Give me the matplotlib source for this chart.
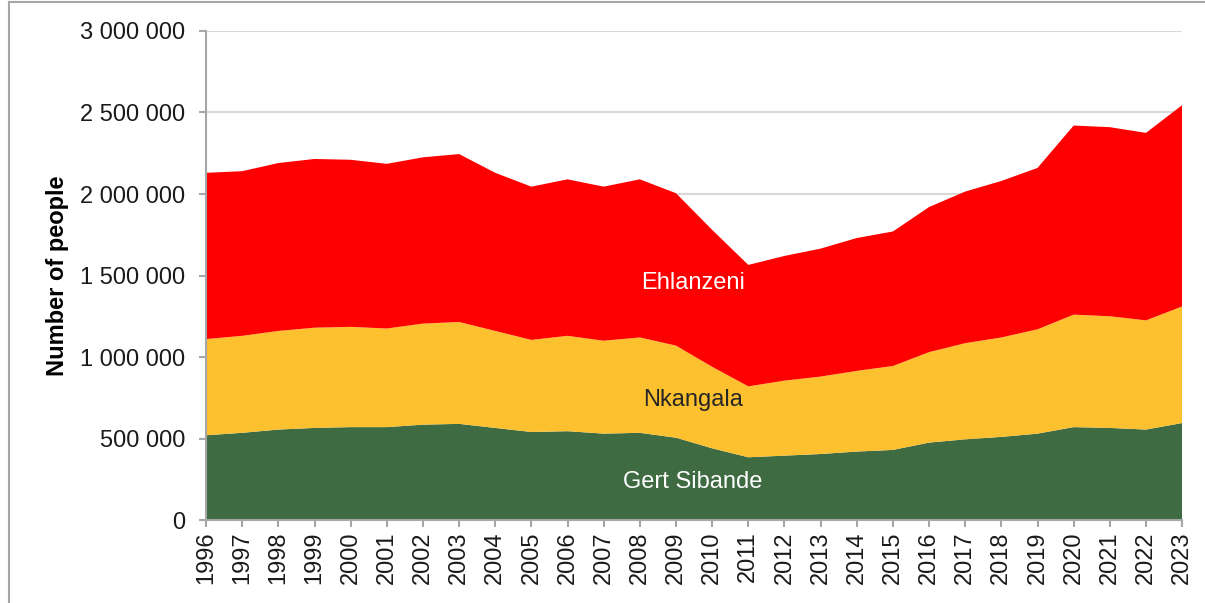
import matplotlib.pyplot as plt
from matplotlib.ticker import FuncFormatter
from matplotlib.lines import Line2D

plt.rcParams['font.family'] = ['Liberation Sans', 'DejaVu Sans']

years = list(range(1996, 2024))

# cumulative tops
gert_top = [520, 535, 555, 565, 570, 570, 585, 590, 565, 540, 545, 530, 535, 505,
            440, 385, 395, 405, 420, 430, 475, 495, 510, 530, 570, 565, 555, 595]
nkangala_top = [1110, 1130, 1160, 1180, 1185, 1175, 1205, 1215, 1160, 1105, 1130, 1100, 1120, 1070,
                940, 820, 855, 880, 915, 945, 1030, 1085, 1120, 1170, 1260, 1250, 1225, 1310]
ehlanzeni_top = [2130, 2140, 2190, 2215, 2210, 2185, 2225, 2245, 2130, 2045, 2090, 2045, 2090, 2005,
                 1780, 1565, 1620, 1665, 1730, 1770, 1920, 2015, 2080, 2160, 2420, 2410, 2375, 2545]

gert_sibande = [g * 1000 for g in gert_top]
nkangala = [(n - g) * 1000 for n, g in zip(nkangala_top, gert_top)]
ehlanzeni = [(e - n) * 1000 for e, n in zip(ehlanzeni_top, nkangala_top)]

colors = ['#3E6B42', '#FDC02E', '#FF0000']

fig = plt.figure(figsize=(12.05, 6.03), dpi=100)
ax = fig.add_axes([0.171, 0.1376, 0.81, 0.811])

ax.stackplot(years, gert_sibande, nkangala, ehlanzeni, colors=colors, zorder=2)

ax.set_xlim(1996, 2023)
ax.set_ylim(0, 3000000)
ax.set_yticks(range(0, 3000001, 500000))
ax.set_xticks(years)
ax.yaxis.set_major_formatter(FuncFormatter(lambda v, p: f'{int(v):,}'.replace(',', ' ')))
ax.grid(axis='y', color='#D9D9D9', linewidth=1.5, zorder=0)
ax.set_axisbelow(True)

for s in ['top', 'right']:
    ax.spines[s].set_visible(False)
for s in ['left', 'bottom']:
    ax.spines[s].set_color('#A6A6A6')
    ax.spines[s].set_linewidth(1.5)

ax.tick_params(axis='y', labelsize=17, colors='#A6A6A6', labelcolor='#1a1a1a', length=5, width=1.5, pad=10)
ax.tick_params(axis='x', labelsize=17, colors='#A6A6A6', labelcolor='#1a1a1a', length=5, width=1.5,
               pad=3, labelrotation=90)

ax.set_ylabel('Number of people', fontsize=17, fontweight='bold', labelpad=8)

ax.text(2009.47, 1454000, 'Ehlanzeni', color='white', fontsize=17, ha='center', va='center')
ax.text(2009.47, 736000, 'Nkangala', color='#262626', fontsize=17, ha='center', va='center')
ax.text(2009.47, 233000, 'Gert Sibande', color='white', fontsize=17, ha='center', va='center')

# page frame around the figure
fig.add_artist(Line2D([9 / 1205, 9 / 1205], [0, 1 - 2 / 603], color='#A6A6A6', linewidth=1.5,
                      transform=fig.transFigure))
fig.add_artist(Line2D([9 / 1205, 1], [1 - 2 / 603, 1 - 2 / 603], color='#A6A6A6', linewidth=1.5,
                      transform=fig.transFigure))

fig.savefig('out.png', dpi=100)
